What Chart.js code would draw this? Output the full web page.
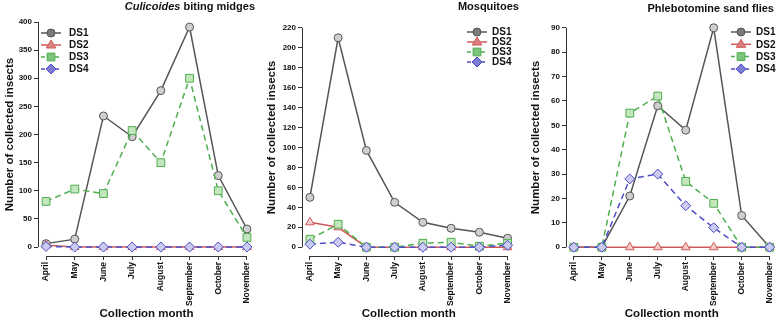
<!DOCTYPE html>
<html lang="en">
<head>
<meta charset="UTF-8">
<title>Collected insects by month</title>
<script src="https://cdn.jsdelivr.net/npm/chart.js"></script>
<style>
    * { margin: 0; padding: 0; box-sizing: border-box; }
    body {
        width: 784px; height: 321px; background: #fff;
        position: relative; overflow: hidden;
        font-family: 'Liberation Sans', Arial, sans-serif;
    }
    .panel { position: absolute; top: 0; height: 321px; }
    .title {
        position: absolute; font-size: 11px; font-weight: bold;
        color: #111; white-space: nowrap; line-height: 12px;
    }
</style>
</head>
<body>
    <div class="panel" style="left:0;width:262px"><canvas id="c1"></canvas></div>
    <div class="panel" style="left:262px;width:260px"><canvas id="c2"></canvas></div>
    <div class="panel" style="left:522px;width:262px"><canvas id="c3"></canvas></div>

    <div class="title" style="right:529px;top:0"><i>Culicoides</i> biting midges</div>
    <div class="title" style="right:265px;top:0">Mosquitoes</div>
    <div class="title" style="right:10px;top:2px">Phlebotomine sand flies</div>

<script>
const months = ['April', 'May', 'June', 'July', 'August', 'September', 'October', 'November'];

// Culicoides biting midges
const midgesDS1 = [6, 14, 233, 196, 278, 391, 127, 32];
const midgesDS2 = [3, 0, 0, 0, 0, 0, 0, 0];
const midgesDS3 = [81, 103, 95, 207, 150, 300, 100, 17];
const midgesDS4 = [1, 0, 0, 0, 0, 0, 0, 0];
const midgesTicks = [0, 50, 100, 150, 200, 250, 300, 350, 400];

// Mosquitoes
const mosqDS1 = [50, 210, 97, 45, 25, 19, 15, 9];
const mosqDS2 = [25, 20, 0, 0, 0, 0, 0, 0];
const mosqDS3 = [8, 23, 0, 0, 4, 5, 1, 4];
const mosqDS4 = [3, 5, 0, 0, 0, 0, 0, 2];
const mosqTicks = [0, 20, 40, 60, 80, 100, 120, 140, 160, 180, 200, 220];

// Phlebotomine sand flies
const sandDS1 = [0, 0, 21, 58, 48, 90, 13, 0];
const sandDS2 = [0, 0, 0, 0, 0, 0, 0, 0];
const sandDS3 = [0, 0, 55, 62, 27, 18, 0, 0];
const sandDS4 = [0, 0, 28, 30, 17, 8, 0, 0];
const sandTicks = [0, 10, 20, 30, 40, 50, 60, 70, 80, 90];

const dsStyles = [
    { label: 'DS1', color: '#555555', fill: '#cfcfcf', legendFill: '#7a7a7a', shape: 'circle', r: 4, dash: [] },
    { label: 'DS2', color: '#cf5a5a', fill: '#f4cccc', legendFill: '#d98080', shape: 'triangle', r: 5, dash: [] },
    { label: 'DS3', color: '#4fae4f', fill: '#c4e6bd', legendFill: '#7cc67c', shape: 'rect', r: 5.5, dash: [6, 4] },
    { label: 'DS4', color: '#4d4dc6', fill: '#cbcbf2', legendFill: '#7b7bd6', shape: 'rectRot', r: 5, dash: [6, 4] }
];

const FONT = "'Liberation Sans', Arial, sans-serif";

function marker(ctx, shape, x, y, r) {
    ctx.beginPath();
    if (shape === 'circle') {
        ctx.arc(x, y, r, 0, Math.PI * 2);
    } else if (shape === 'triangle') {
        ctx.moveTo(x, y - r);
        ctx.lineTo(x + r * 0.95, y + r * 0.6);
        ctx.lineTo(x - r * 0.95, y + r * 0.6);
        ctx.closePath();
    } else if (shape === 'rect') {
        const s = r * Math.SQRT1_2;
        ctx.rect(x - s, y - s, 2 * s, 2 * s);
    } else {
        ctx.moveTo(x, y - r);
        ctx.lineTo(x + r, y);
        ctx.lineTo(x, y + r);
        ctx.lineTo(x - r, y);
        ctx.closePath();
    }
    ctx.fill();
    ctx.stroke();
}

// R-style axis lines: only between first and last tick
const rAxes = {
    id: 'rAxes',
    afterDraw(chart) {
        const ctx = chart.ctx, x = chart.scales.x, y = chart.scales.y;
        const yt = chart.options.yTickValues;
        ctx.save();
        ctx.strokeStyle = '#333';
        ctx.lineWidth = 1;
        ctx.beginPath();
        ctx.moveTo(chart.chartArea.left + 0.5, y.getPixelForValue(yt[0]));
        ctx.lineTo(chart.chartArea.left + 0.5, y.getPixelForValue(yt[yt.length - 1]));
        ctx.moveTo(x.getPixelForValue(0), chart.chartArea.bottom + 0.5);
        ctx.lineTo(x.getPixelForValue(months.length - 1), chart.chartArea.bottom + 0.5);
        ctx.stroke();
        ctx.restore();
    }
};

const dsLegend = {
    id: 'dsLegend',
    afterDraw(chart, args, opts) {
        const ctx = chart.ctx;
        dsStyles.forEach((st, i) => {
            const y = opts.y + i * opts.gap;
            ctx.save();
            ctx.strokeStyle = st.color;
            ctx.lineWidth = 1.5;
            ctx.setLineDash(st.dash.length ? [4, 3] : []);
            ctx.beginPath();
            ctx.moveTo(opts.x, y);
            ctx.lineTo(opts.x + 20, y);
            ctx.stroke();
            ctx.setLineDash([]);
            ctx.lineWidth = 1;
            ctx.fillStyle = st.legendFill;
            marker(ctx, st.shape, opts.x + 10, y, st.r);
            ctx.fillStyle = '#111';
            ctx.font = 'bold 10px ' + FONT;
            ctx.textBaseline = 'middle';
            ctx.fillText(st.label, opts.textX, y + 0.5);
            ctx.restore();
        });
    }
};

function makeChart(id, series, yTicks, cfg) {
    const top = yTicks[yTicks.length - 1];
    const datasets = series.map((vals, i) => {
        const st = dsStyles[i];
        return {
            label: st.label,
            data: vals.map((v, k) => ({ x: k, y: v })),
            borderColor: st.color,
            borderWidth: 1.5,
            borderDash: st.dash,
            pointStyle: st.shape,
            pointRadius: st.r,
            pointBorderWidth: 1,
            pointBorderColor: st.color,
            pointBackgroundColor: st.fill,
            tension: 0,
            clip: false,
            order: 4 - i
        };
    });

    return new Chart(document.getElementById(id), {
        type: 'line',
        data: { datasets },
        plugins: [rAxes, dsLegend],
        options: {
            responsive: true,
            maintainAspectRatio: false,
            animation: false,
            events: [],
            yTickValues: yTicks,
            layout: { padding: { left: 0, top: cfg.top, right: cfg.right, bottom: 0 } },
            plugins: {
                legend: { display: false },
                tooltip: { enabled: false },
                dsLegend: cfg.legend
            },
            scales: {
                x: {
                    type: 'linear',
                    min: -0.28,
                    max: months.length - 1 + 0.28,
                    afterBuildTicks: s => { s.ticks = months.map((m, k) => ({ value: k })); },
                    afterFit: s => { s.height = 65; },
                    grid: { drawOnChartArea: false, drawTicks: true, tickLength: 4, color: '#333' },
                    border: { display: false },
                    ticks: {
                        autoSkip: false,
                        minRotation: 90,
                        maxRotation: 90,
                        padding: 2,
                        color: '#111',
                        font: { family: FONT, size: 8.5, weight: 'bold' },
                        callback: v => months[v]
                    },
                    title: {
                        display: true,
                        text: 'Collection month',
                        color: '#111',
                        padding: { top: 0, bottom: 0 },
                        font: { family: FONT, size: 11.5, weight: 'bold' }
                    }
                },
                y: {
                    min: -0.04 * top,
                    max: 1.04 * top,
                    afterBuildTicks: s => { s.ticks = yTicks.map(v => ({ value: v })); },
                    afterFit: s => { s.width = cfg.yWidth; },
                    grid: { drawOnChartArea: false, drawTicks: true, tickLength: 4, color: '#333' },
                    border: { display: false },
                    ticks: {
                        padding: 2,
                        color: '#111',
                        font: { family: FONT, size: 8, weight: 'bold' }
                    },
                    title: {
                        display: true,
                        text: 'Number of collected insects',
                        color: '#111',
                        padding: { top: cfg.titlePad, bottom: 0 },
                        font: { family: FONT, size: 11.5, weight: 'bold' }
                    }
                }
            }
        }
    });
}

makeChart('c1', [midgesDS1, midgesDS2, midgesDS3, midgesDS4], midgesTicks,
    { yWidth: 38, top: 13, right: 7, titlePad: 3, legend: { x: 41, textX: 69, y: 33, gap: 12 } });
makeChart('c2', [mosqDS1, mosqDS2, mosqDS3, mosqDS4], mosqTicks,
    { yWidth: 40, top: 19, right: 2, titlePad: 3, legend: { x: 205, textX: 230, y: 32, gap: 10 } });
makeChart('c3', [sandDS1, sandDS2, sandDS3, sandDS4], sandTicks,
    { yWidth: 44, top: 19, right: 0, titlePad: 7, legend: { x: 209, textX: 234, y: 32, gap: 12.3 } });
</script>
</body>
</html>
